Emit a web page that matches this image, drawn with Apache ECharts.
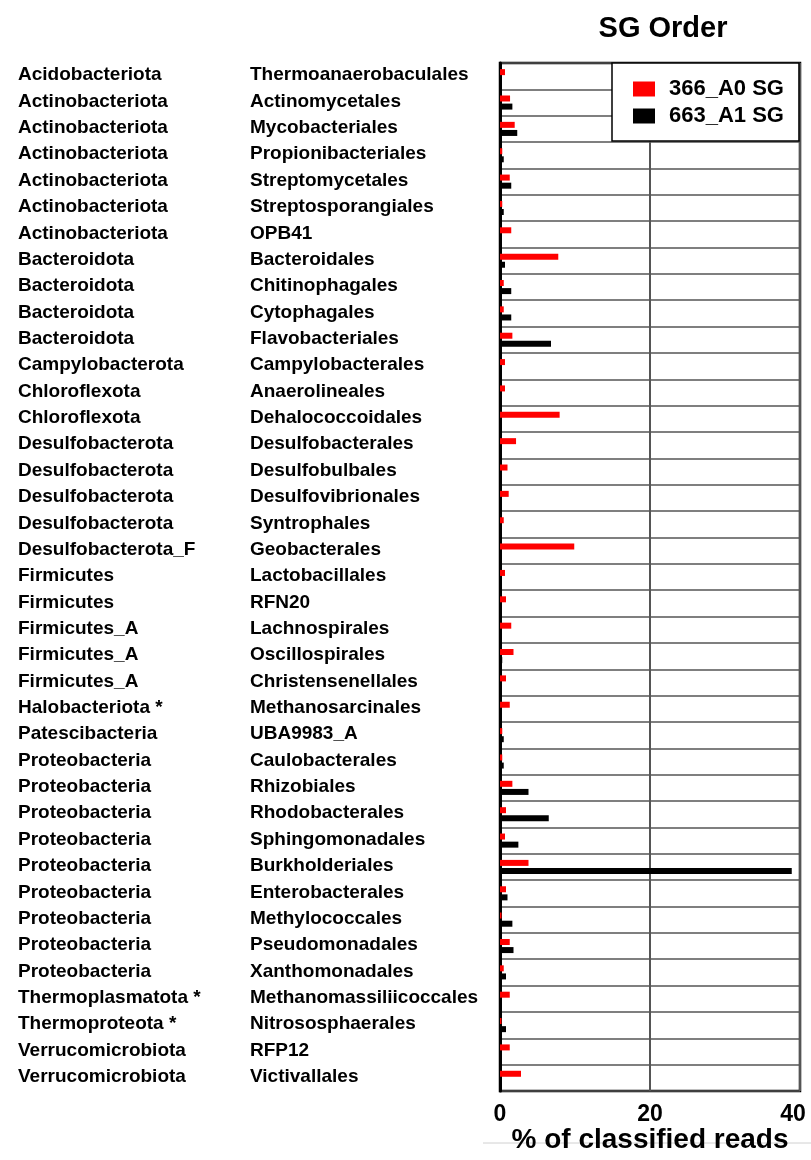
<!DOCTYPE html>
<html>
<head>
<meta charset="utf-8">
<script src="https://cdn.jsdelivr.net/npm/echarts@6/dist/echarts.min.js"></script>
<style>html,body{margin:0;padding:0;background:#fff;overflow:hidden}#c{width:811px;height:1160px}</style>
</head>
<body>
<div id="c"></div>
<script>
const phyla = ["Acidobacteriota","Actinobacteriota","Actinobacteriota","Actinobacteriota","Actinobacteriota","Actinobacteriota","Actinobacteriota","Bacteroidota","Bacteroidota","Bacteroidota","Bacteroidota","Campylobacterota","Chloroflexota","Chloroflexota","Desulfobacterota","Desulfobacterota","Desulfobacterota","Desulfobacterota","Desulfobacterota_F","Firmicutes","Firmicutes","Firmicutes_A","Firmicutes_A","Firmicutes_A","Halobacteriota *","Patescibacteria","Proteobacteria","Proteobacteria","Proteobacteria","Proteobacteria","Proteobacteria","Proteobacteria","Proteobacteria","Proteobacteria","Proteobacteria","Thermoplasmatota *","Thermoproteota *","Verrucomicrobiota","Verrucomicrobiota"];
const orders = ["Thermoanaerobaculales","Actinomycetales","Mycobacteriales","Propionibacteriales","Streptomycetales","Streptosporangiales","OPB41","Bacteroidales","Chitinophagales","Cytophagales","Flavobacteriales","Campylobacterales","Anaerolineales","Dehalococcoidales","Desulfobacterales","Desulfobulbales","Desulfovibrionales","Syntrophales","Geobacterales","Lactobacillales","RFN20","Lachnospirales","Oscillospirales","Christensenellales","Methanosarcinales","UBA9983_A","Caulobacterales","Rhizobiales","Rhodobacterales","Sphingomonadales","Burkholderiales","Enterobacterales","Methylococcales","Pseudomonadales","Xanthomonadales","Methanomassiliicoccales","Nitrososphaerales","RFP12","Victivallales"];
const sg366 = [0.67,1.34,1.96,0.3,1.3,0.3,1.5,7.77,0.5,0.5,1.65,0.67,0.67,7.95,2.14,1.0,1.16,0.5,9.9,0.67,0.8,1.5,1.8,0.8,1.3,0.3,0.3,1.65,0.8,0.67,3.8,0.8,0.2,1.3,0.5,1.3,0.2,1.3,2.8];
const sg663 = [0.2,1.65,2.3,0.5,1.5,0.5,0.15,0.67,1.5,1.5,6.8,0.15,0.15,0.15,0.15,0.15,0.15,0.15,0.15,0.15,0.15,0.15,0.3,0.15,0.15,0.5,0.5,3.8,6.5,2.45,38.9,1.0,1.65,1.8,0.8,0.15,0.8,0.15,0.15];
const xTicks = [0,20,40];
const seriesNames = ["366_A0 SG","663_A1 SG"];

const FONT = 'Arial, "Liberation Sans", sans-serif';
const chart = echarts.init(document.getElementById('c'), null, {renderer:'canvas', width:811, height:1160});
const tickStyle = {fontFamily:FONT,fontWeight:'bold',fontSize:23,color:'#000'};
chart.setOption({
  animation:false,
  backgroundColor:'#fff',
  title:{text:'SG Order',left:658,textAlign:'center',top:9,textStyle:{fontFamily:FONT,fontWeight:'bold',fontSize:29,color:'#000'}},
  graphic:[{type:'line',z:-1,shape:{x1:483,y1:1143,x2:811,y2:1143},style:{stroke:'#d0d0d0',lineWidth:1}}],
  legend:{
    orient:'vertical',left:612,top:63,
    padding:[15,15,14,21],itemGap:5,itemWidth:22,itemHeight:15,
    icon:'rect',
    backgroundColor:'#fff',borderColor:'#000',borderWidth:1.5,
    data:seriesNames,
    textStyle:{fontFamily:FONT,fontWeight:'bold',fontSize:22,color:'#000',padding:[0,0,0,9]}
  },
  grid:{left:500,right:11,top:63,bottom:69,outerBoundsMode:'none',containLabel:false,show:true,borderColor:'#000',borderWidth:2.5,backgroundColor:'#fff'},
  xAxis:{
    type:'value',min:0,max:40,interval:20,
    axisLine:{show:false},axisTick:{show:false},
    splitLine:{show:true,lineStyle:{color:'#555',width:2}},
    axisLabel:{...tickStyle,margin:12,
      formatter:v=>!xTicks.includes(v)?'':(v===40?'{r|'+v+'}':'{n|'+v+'}'),
      rich:{n:{...tickStyle},r:{...tickStyle,padding:[0,14,0,0]}}},
    name:'% of classified reads',nameLocation:'middle',nameGap:35,nameMoveOverlap:false,
    nameTextStyle:{fontFamily:FONT,fontWeight:'bold',fontSize:28,color:'#000'}
  },
  yAxis:{
    type:'category',inverse:true,data:orders,
    axisLine:{show:true,lineStyle:{color:'#000',width:3}},
    axisTick:{show:false},
    splitLine:{show:true,lineStyle:{color:'#555',width:1.5}},
    axisLabel:{
      align:'left',margin:482,interval:0,
      formatter:(v,i)=>'{p|'+phyla[i]+'}{o|'+v+'}',
      rich:{
        p:{fontFamily:FONT,fontWeight:'bold',fontSize:19,color:'#000',width:232,padding:[0,0,2,0]},
        o:{fontFamily:FONT,fontWeight:'bold',fontSize:19,color:'#000',padding:[0,0,2,0]}
      }
    }
  },
  series:[
    {name:seriesNames[0],type:'bar',data:sg366,barWidth:6,barGap:'35%',itemStyle:{color:'#ff0000'}},
    {name:seriesNames[1],type:'bar',data:sg663,barWidth:6,itemStyle:{color:'#000'}}
  ]
});
</script>
</body>
</html>
